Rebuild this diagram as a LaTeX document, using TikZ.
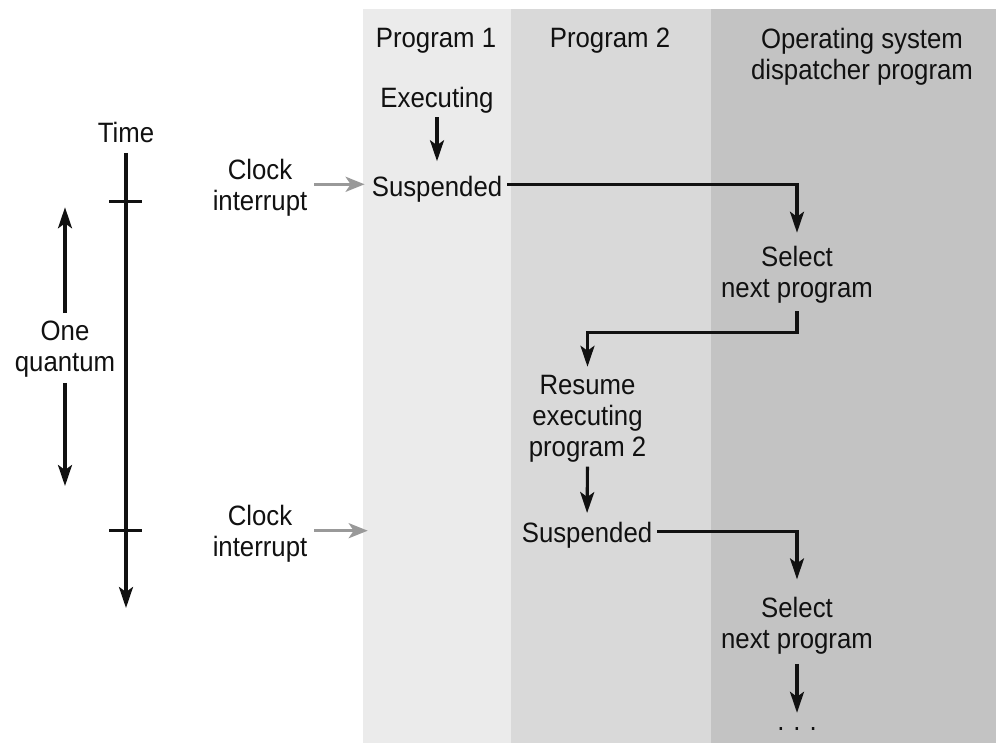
\documentclass[tikz,border=0pt]{standalone}
\usepackage{fontspec}
\setmainfont[FakeStretch=0.92]{Liberation Sans}
\usetikzlibrary{arrows.meta}
\definecolor{colA}{HTML}{EBEBEB}
\definecolor{colB}{HTML}{D9D9D9}
\definecolor{colC}{HTML}{C3C3C3}
\definecolor{arrgray}{HTML}{999999}
\definecolor{ink}{HTML}{111111}
\tikzset{
  lbl/.style={font=\fontsize{28}{31}\selectfont, align=center, inner sep=1pt, text=ink},
  flow/.style={line width=3.1pt, draw=ink, -{Stealth[length=21pt,width=14pt,inset=5pt]}},
  plain/.style={line width=3.1pt, draw=ink},
  clk/.style={line width=3pt, draw=arrgray, -{Stealth[length=19pt,width=15pt,inset=5pt]}},
}
\begin{document}
\begin{tikzpicture}[x=1pt,y=-1pt]
\useasboundingbox (0,0) rectangle (996,743);
\fill[white] (0,0) rectangle (996,743);
% column backgrounds
\fill[colA] (363,9) rectangle (511,743);
\fill[colB] (511,9) rectangle (711,743);
\fill[colC] (711,9) rectangle (996,743);

% headers
\node[lbl] (h1) at (436,41) {Program 1};
\node[lbl] (h2) at (610,41) {Program 2};
\node[lbl] (h3) at (862,56.5) {Operating system\\dispatcher program};

% flow nodes
\node[lbl] (exec) at (437,100) {Executing};
\node[lbl] (susp1) at (437,189.5) {Suspended};
\node[lbl] (sel1) at (797,274.5) {Select\\next program};
\node[lbl] (resume) at (587.5,419) {Resume\\executing\\program 2};
\node[lbl] (susp2) at (587,535.3) {Suspended};
\node[lbl] (sel2) at (797,625.6) {Select\\next program};
\node[lbl, anchor=base] (dots) at (797,730) {.\kern 9pt.\kern 9pt.};

% left side labels
\node[lbl] (time) at (126,132) {Time};
\node[lbl] (quant) at (65,349.5) {One\\quantum};
\node[lbl] (clock1) at (260,188) {Clock\\interrupt};
\node[lbl] (clock2) at (260,534) {Clock\\interrupt};

% coordinates
\coordinate (bend1) at (0,332.7);
\coordinate (tend) at (126,608);
\coordinate (t1) at (126,201.7);
\coordinate (t2) at (126,530.7);
\coordinate (qtop) at (65,207.3);
\coordinate (qbot) at (65,486);
\coordinate (c2end) at (367.7,530.7);

% flow connectors
\draw[flow, shorten <=3pt, shorten >=14pt] (exec.south) -- (susp1.north);
\draw[flow, shorten >=12pt] ([xshift=4pt,yshift=5pt]susp1.east) -| (sel1.north);
\draw[flow, shorten >=7.5pt] ([yshift=-7pt]sel1.south) -- (sel1.south |- bend1) -| (resume.north);
\draw[flow, shorten <=3pt, shorten >=8pt] (resume.south) -- (susp2.north);
\draw[flow, shorten >=16.5pt] ([xshift=4pt,yshift=4pt]susp2.east) -| (sel2.north);
\draw[flow, shorten <=8.5pt, shorten >=13pt] (sel2.south) -- (dots.north);

% time axis
\draw[flow, shorten <=9.5pt] (time.south) -- (tend);
\draw[plain] ([xshift=-17pt]t1) -- ([xshift=16pt]t1);
\draw[plain] ([xshift=-17pt]t2) -- ([xshift=16pt]t2);

% one quantum
\draw[flow, shorten <=7pt] (quant.north) -- (quant.north |- qtop);
\draw[flow, shorten <=4pt] (quant.south) -- (quant.south |- qbot);

% clock interrupts
\draw[clk, shorten <=6pt, shorten >=6pt] ([yshift=3.7pt]clock1.east) -- ([yshift=3.7pt]clock1.east -| susp1.west);
\draw[clk, shorten <=6pt] (clock2.east |- c2end) -- (c2end);
\end{tikzpicture}
\end{document}
